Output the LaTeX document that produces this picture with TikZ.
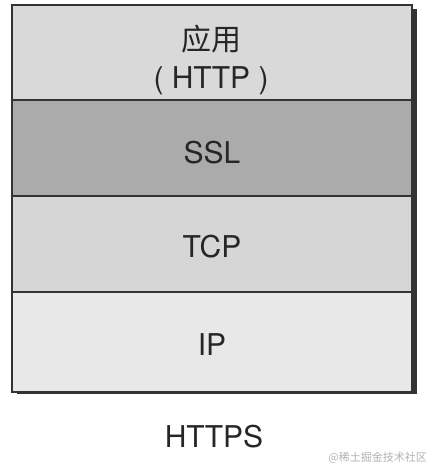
\documentclass[tikz,border=0pt]{standalone}
\usepackage{fontspec}
\setmainfont{TeX Gyre Heros}
\newfontfamily\cjk{Noto Sans CJK SC}
\begin{document}
\begin{tikzpicture}[x=1pt,y=-1pt,
  layer/.style={draw=black!80,line width=1.8pt,minimum width=400pt,inner sep=0pt,outer sep=0pt},
  lbl/.style={anchor=base,inner sep=0pt,font=\fontsize{30}{36}\selectfont,text=black!85},
  shadowline/.style={draw=black!80,line width=4.5pt}]
\useasboundingbox (0,0) rectangle (440,476);
\fill[white] (0,0) rectangle (440,476);
% shadow
\coordinate (s1) at (414.5,9);
\coordinate (s2) at (414.5,391.5);
\coordinate (s3) at (17,391.5);
\draw[shadowline] (s1) -- (s2) -- (s3);
\node[layer,fill=black!15,minimum height=95pt] (app) at (212,52.5) {};
\node[layer,fill=black!33,minimum height=96pt] (ssl) at (212,148) {};
\node[layer,fill=black!16,minimum height=96pt] (tcp) at (212,244) {};
\node[layer,fill=black!9,minimum height=100pt] (ip) at (212,342) {};
\node[lbl,font=\cjk\fontsize{30}{36}\selectfont] (tapp) at (211,51) {应用};
\node[lbl] (thttp) at (211,89) {( HTTP )};
\node[lbl] (tssl) at (212,163) {SSL};
\node[lbl] (ttcp) at (212,257) {TCP};
\node[lbl] (tip) at (212,355) {IP};
\node[lbl] (thttps) at (214,447) {HTTPS};
\node[anchor=base east,inner sep=0pt,text=black!30,font=\cjk\fontsize{11}{13}\selectfont] (wm) at (427,461) {@稀土掘金技术社区};
\end{tikzpicture}
\end{document}
